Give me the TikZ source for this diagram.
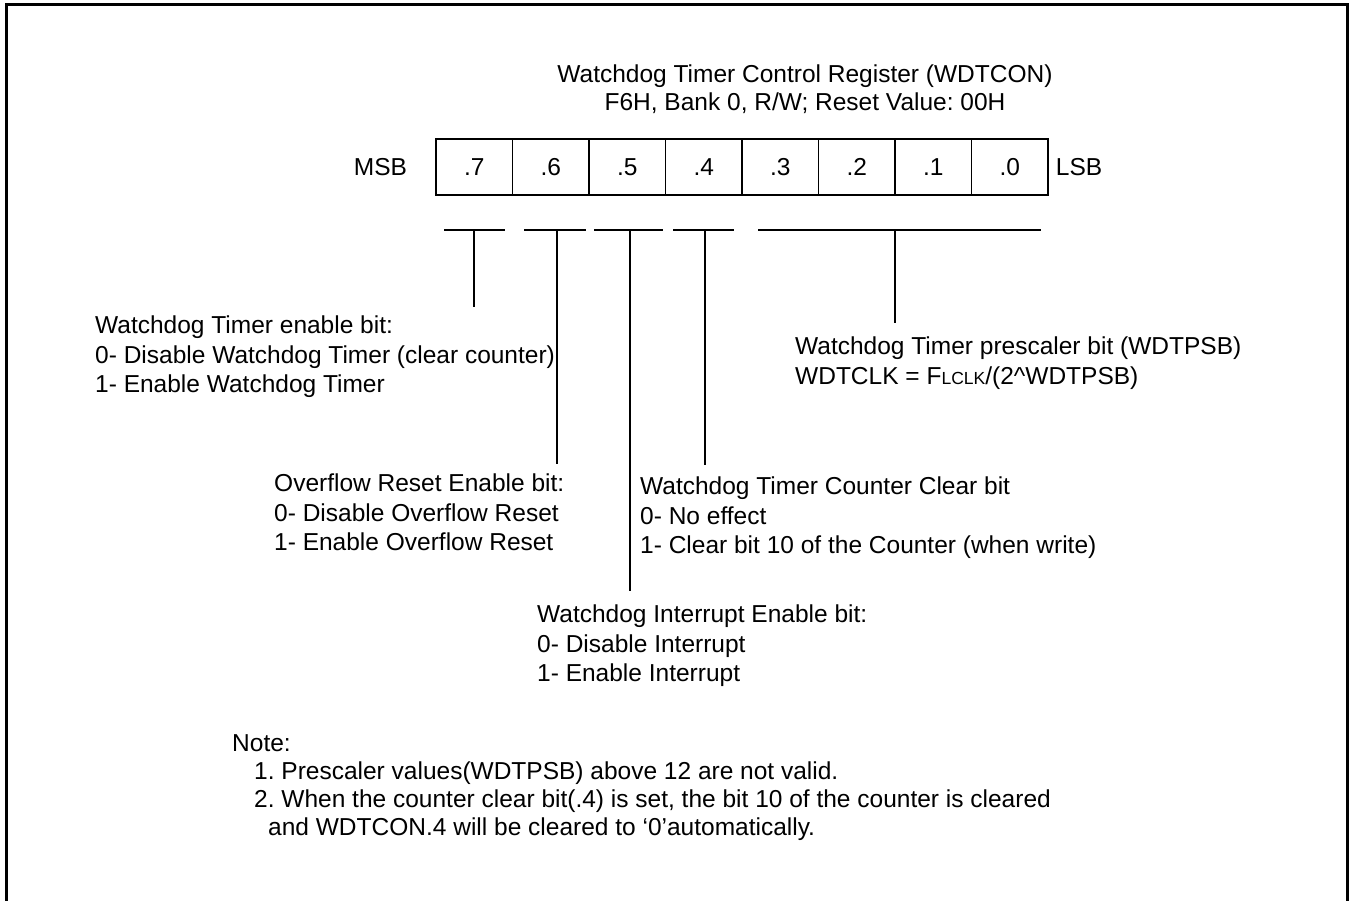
\documentclass[tikz,border=0pt]{standalone}
\usepackage{fontspec}
\setmainfont{Liberation Sans}
\usetikzlibrary{positioning}
\frenchspacing

\begin{document}
\begin{tikzpicture}[
  x=1pt,y=-1pt,
  every node/.style={inner sep=0pt,font=\fontsize{24.5}{29.5}\selectfont},
  bitcell/.style={draw,line width=1.5pt,minimum width=76.5pt,minimum height=56pt},
  desc/.style={anchor=north west,align=left},
  tie/.style={line width=1.5pt},
  lead/.style={tie,shorten >=#1},
  node distance=28pt
]
\clip (0,0) rectangle (1352,901);
\draw[line width=3pt] (6.5,4.5) rectangle (1347,930);

% title of the register
\node[align=center,anchor=north,font=\fontsize{24.5}{28}\selectfont] (title) at (805,65)
  {Watchdog Timer Control Register (WDTCON)\\F6H, Bank 0, R/W; Reset Value: 00H};

% bit cells
\foreach \b [count=\i from 0] in {7,6,...,0}
  \node[bitcell] (c\b) at ({474.25+76.5*\i},167) {.\b};
\node[left=28pt of c7] (msb) {MSB};
\node[right=7pt of c0] (lsb) {LSB};

% brackets under the bits
\foreach \n/\l/\m/\r in {7/444/474/505,6/524/557/586,5/594/630/663,4/673/705/734,30/758/895/1041}{
  \coordinate (b\n l) at (\l,230);
  \coordinate (b\n) at (\m,230);
  \coordinate (b\n r) at (\r,230);
  \draw[tie] (b\n l) -- (b\n r);
}

% descriptions
\node[desc] (en) at (95,316) {Watchdog Timer enable bit:\\0- Disable Watchdog Timer (clear counter)\\1- Enable Watchdog Timer};
\node[desc] (ps) at (795,337) {Watchdog Timer prescaler bit (WDTPSB)\\WDTCLK = F{\fontsize{17.5}{18}\selectfont LCLK}/(2\textasciicircum WDTPSB)};
\node[desc] (ov) at (274,474) {Overflow Reset Enable bit:\\0- Disable Overflow Reset\\1- Enable Overflow Reset};
\node[desc] (cc) at (640,477) {Watchdog Timer Counter Clear bit\\0- No effect\\1- Clear bit 10 of the Counter (when write)};
\node[desc] (ie) at (537,605) {Watchdog Interrupt Enable bit:\\0- Disable Interrupt\\1- Enable Interrupt};

\draw[lead=9pt] (b7) -- (b7 |- en.north);
\draw[lead=10pt] (b6) -- (b6 |- ov.north);
\draw[lead=14pt] (b5) -- (b5 |- ie.north);
\draw[lead=12pt] (b4) -- (b4 |- cc.north);
\draw[lead=14pt] (b30) -- (b30 |- ps.north);

% notes
\node[desc,font=\fontsize{24.5}{28}\selectfont] (note) at (232,734)
  {Note:\\
   \hspace*{22pt}1. Prescaler values(WDTPSB) above 12 are not valid.\\
   \hspace*{22pt}2. When the counter clear bit(.4) is set, the bit 10 of the counter is cleared\\
   \hspace*{36pt}and WDTCON.4 will be cleared to ‘0’automatically.};
\end{tikzpicture}
\end{document}
